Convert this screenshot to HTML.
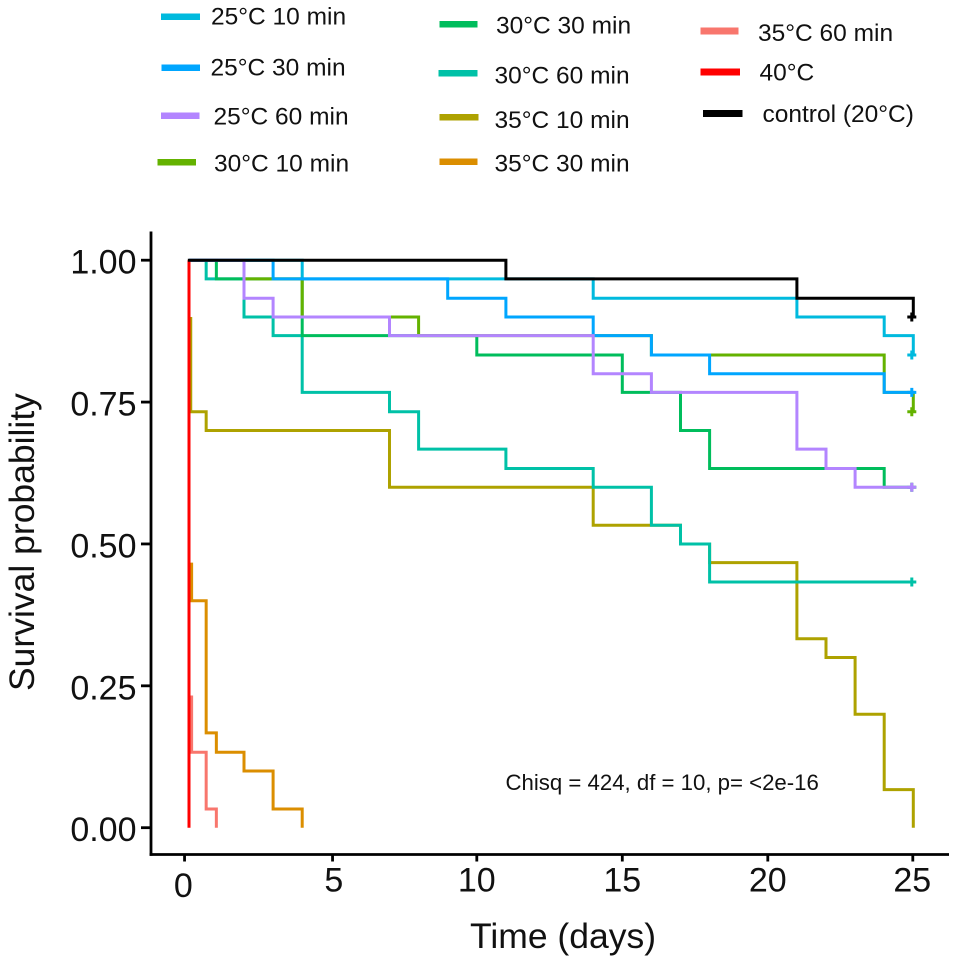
<!DOCTYPE html>
<html lang="en">
<head>
<meta charset="utf-8">
<title>Survival probability chart</title>
<style>
  html, body { margin: 0; padding: 0; background: #ffffff; }
  svg { display: block; font-family: "Liberation Sans", Arial, sans-serif; fill: #111; filter: blur(0.35px); }
  .legend-label { font-size: 24.5px; }
  .tick-label { font-size: 34px; }
  .axis-title { font-size: 35.5px; }
</style>
</head>
<body>
<svg id="chart" width="956" height="963" viewBox="0 0 956 963" xmlns="http://www.w3.org/2000/svg">
  <rect x="0" y="0" width="956" height="963" fill="#ffffff"/>

  <g>
    <g>
      <rect x="161" y="13.5" width="39" height="6.5" fill="#00BADE"/>
      <text class="legend-label" x="211" y="24.5">25°C 10 min</text>
    </g>
    <g>
      <rect x="161.5" y="64.5" width="38.5" height="6.5" fill="#00A6FF"/>
      <text class="legend-label" x="210.5" y="75.5">25°C 30 min</text>
    </g>
    <g>
      <rect x="161" y="112.5" width="38.5" height="6.5" fill="#B385FF"/>
      <text class="legend-label" x="213.5" y="124.5">25°C 60 min</text>
    </g>
    <g>
      <rect x="157.5" y="159" width="38.5" height="6.5" fill="#64B200"/>
      <text class="legend-label" x="214" y="171.5">30°C 10 min</text>
    </g>
    <g>
      <rect x="439.5" y="21" width="38" height="6.5" fill="#00BD5C"/>
      <text class="legend-label" x="496" y="33.5">30°C 30 min</text>
    </g>
    <g>
      <rect x="438.5" y="70" width="39" height="6.5" fill="#00C1A7"/>
      <text class="legend-label" x="494.5" y="83.5">30°C 60 min</text>
    </g>
    <g>
      <rect x="439.5" y="114" width="39" height="6.5" fill="#AEA200"/>
      <text class="legend-label" x="494.5" y="128">35°C 10 min</text>
    </g>
    <g>
      <rect x="439.5" y="158.5" width="38" height="6.5" fill="#DB8E00"/>
      <text class="legend-label" x="494.5" y="171.5">35°C 30 min</text>
    </g>
    <g>
      <rect x="700.5" y="27.5" width="38" height="7" fill="#F8766D"/>
      <text class="legend-label" x="758" y="41">35°C 60 min</text>
    </g>
    <g>
      <rect x="700.5" y="68.5" width="39.5" height="7" fill="#FF0000"/>
      <text class="legend-label" x="759.5" y="80.5">40°C</text>
    </g>
    <g>
      <rect x="703" y="110" width="39.5" height="7" fill="#000000"/>
      <text class="legend-label" x="762.5" y="122">control (20°C)</text>
    </g>
  </g>

  <g id="axes">
    <line x1="151" y1="231.5" x2="151" y2="855.8" stroke="#000" stroke-width="2.8"/>
    <line x1="149.6" y1="854.5" x2="949" y2="854.5" stroke="#000" stroke-width="2.8"/>
  </g>
  <g id="series-layer" fill="none"></g>

  <text class="axis-title" transform="translate(34,691) rotate(-90)">Survival probability</text>
  <text class="axis-title" x="470" y="948">Time (days)</text>
  <text x="505.5" y="790" font-size="22.2">Chisq = 424, df = 10, p= &lt;2e-16</text>
</svg>

<script>
const xTickValues = [0, 5, 10, 15, 20, 25];
const xTickLabels = ["0", "5", "10", "15", "20", "25"];
const yTickValues = [1, 0.75, 0.5, 0.25, 0];
const yTickLabels = ["1.00", "0.75", "0.50", "0.25", "0.00"];

const gold35c10Times = [0.17, 0.17, 0.7, 7, 14, 17, 18, 21, 22, 23, 24, 25];
const gold35c10Surv = [0.9, 0.733, 0.7, 0.6, 0.533, 0.5, 0.467, 0.333, 0.3, 0.2, 0.067, 0];
const orange35c30Times = [0.2, 0.2, 0.7, 1.05, 2, 3, 4];
const orange35c30Surv = [0.467, 0.4, 0.167, 0.133, 0.1, 0.033, 0];
const salmon35c60Times = [0.2, 0.2, 0.7, 1.05];
const salmon35c60Surv = [0.233, 0.133, 0.033, 0];
const teal30c60Times = [0.11, 0.7, 2, 3, 4, 7, 8, 11, 14, 16, 17, 18, 25];
const teal30c60Surv = [1, 0.967, 0.9, 0.867, 0.767, 0.733, 0.667, 0.633, 0.6, 0.533, 0.5, 0.433, 0.433];
const green30c30Times = [0.11, 1.05, 4, 10, 15, 17, 18, 24, 25];
const green30c30Surv = [1, 0.967, 0.867, 0.833, 0.767, 0.7, 0.633, 0.6, 0.6];
const olive30c10Times = [0.11, 2, 4, 8, 16, 24, 25];
const olive30c10Surv = [1, 0.967, 0.9, 0.867, 0.833, 0.767, 0.733];
const cyan25c10Times = [0.11, 4, 14, 21, 24, 25];
const cyan25c10Surv = [1, 0.967, 0.933, 0.9, 0.867, 0.833];
const blue25c30Times = [0.11, 3, 9, 11, 14, 16, 18, 24, 25];
const blue25c30Surv = [1, 0.967, 0.933, 0.9, 0.867, 0.833, 0.8, 0.767, 0.767];
const purple25c60Times = [0.11, 2, 3, 7, 14, 16, 21, 22, 23, 25];
const purple25c60Surv = [1, 0.933, 0.9, 0.867, 0.8, 0.767, 0.667, 0.633, 0.6, 0.6];
const red40cTimes = [0.11, 0.11];
const red40cSurv = [1, 0];
const controlTimes = [0.07, 11, 21, 25];
const controlSurv = [1, 0.967, 0.933, 0.9];

const seriesNames = ["35c-10min", "35c-30min", "35c-60min", "30c-60min", "30c-30min", "30c-10min", "25c-10min", "25c-30min", "25c-60min", "40c", "control"];
const seriesTimes = [gold35c10Times, orange35c30Times, salmon35c60Times, teal30c60Times, green30c30Times, olive30c10Times, cyan25c10Times, blue25c30Times, purple25c60Times, red40cTimes, controlTimes];
const seriesSurv = [gold35c10Surv, orange35c30Surv, salmon35c60Surv, teal30c60Surv, green30c30Surv, olive30c10Surv, cyan25c10Surv, blue25c30Surv, purple25c60Surv, red40cSurv, controlSurv];
const seriesColors = ["#AEA200", "#DB8E00", "#F8766D", "#00C1A7", "#00BD5C", "#64B200", "#00BADE", "#00A6FF", "#B385FF", "#FF0000", "#000000"];
const seriesCensored = [false, false, false, true, true, true, true, true, true, false, true];

const SVG_NS = "http://www.w3.org/2000/svg";

function xScale(t) {
  return 185.8 + 29.1 * t;
}
function yScale(s) {
  return 827.7 - 567.5 * s;
}

const axesGroup = document.getElementById("axes");
xTickValues.forEach(function (v, i) {
  const px = xScale(v);
  const labelShift = v === 0 ? -2.5 : (v === 5 ? 2.5 : (v === 25 ? -1 : 0));
  const tick = document.createElementNS(SVG_NS, "line");
  tick.setAttribute("x1", px + labelShift / 2);
  tick.setAttribute("x2", px + labelShift / 2);
  tick.setAttribute("y1", 855);
  tick.setAttribute("y2", 861.5);
  tick.setAttribute("stroke", "#000");
  tick.setAttribute("stroke-width", 2.8);
  
  
  axesGroup.appendChild(tick);
  const label = document.createElementNS(SVG_NS, "text");
  label.setAttribute("x", px + labelShift);
  label.setAttribute("y", v === 0 ? 897 : 891.5);
  label.setAttribute("text-anchor", "middle");
  label.setAttribute("class", "tick-label");
  label.textContent = xTickLabels[i];
  
  
  axesGroup.appendChild(label);
});
yTickValues.forEach(function (v, i) {
  const py = yScale(v);
  const tick = document.createElementNS(SVG_NS, "line");
  tick.setAttribute("x1", 141);
  tick.setAttribute("x2", 151);
  tick.setAttribute("y1", py);
  tick.setAttribute("y2", py);
  tick.setAttribute("stroke", "#000");
  tick.setAttribute("stroke-width", 2.8);
  
  
  axesGroup.appendChild(tick);
  const label = document.createElementNS(SVG_NS, "text");
  label.setAttribute("x", 136.5);
  label.setAttribute("y", py + 13.5);
  label.setAttribute("text-anchor", "end");
  label.setAttribute("class", "tick-label");
  label.textContent = yTickLabels[i];
  
  
  axesGroup.appendChild(label);
});

const seriesLayer = document.getElementById("series-layer");
seriesNames.forEach(function (name, k) {
  const times = seriesTimes[k];
  const surv = seriesSurv[k];
  let d = "M" + xScale(times[0]) + " " + yScale(surv[0]);
  for (let i = 1; i < times.length; i++) {
    d += "H" + xScale(times[i]) + "V" + yScale(surv[i]);
  }
  const path = document.createElementNS(SVG_NS, "path");
  path.setAttribute("d", d);
  path.setAttribute("stroke", seriesColors[k]);
  path.setAttribute("stroke-width", 3);
  path.setAttribute("stroke-linejoin", "miter");
  path.setAttribute("fill", "none");
  
  
  seriesLayer.appendChild(path);
  if (seriesCensored[k]) {
    const last = times.length - 1;
    const cx = xScale(times[last]) - 1.5;
    const cy = yScale(surv[last]);
    const mark = document.createElementNS(SVG_NS, "path");
    mark.setAttribute("d", "M" + (cx - 4.5) + " " + cy + "H" + (cx + 4.5) + "M" + cx + " " + (cy - 4.5) + "V" + (cy + 4.5));
    mark.setAttribute("stroke", seriesColors[k]);
    mark.setAttribute("stroke-width", 3);
    mark.setAttribute("fill", "none");
    
    
    seriesLayer.appendChild(mark);
  }
});
</script>
</body>
</html>
